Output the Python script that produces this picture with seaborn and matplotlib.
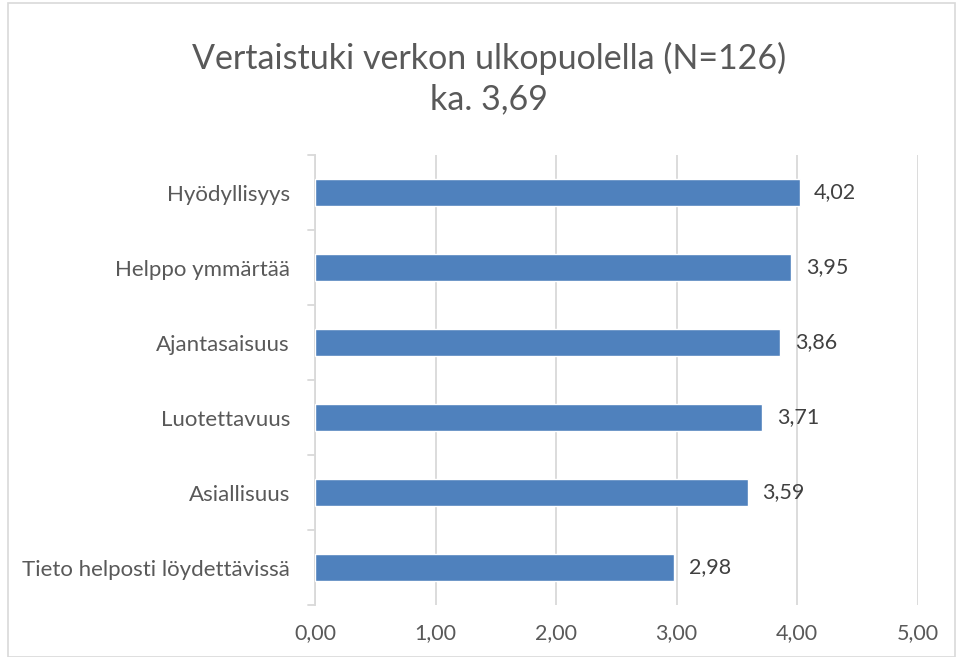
import matplotlib
matplotlib.use("Agg")
import matplotlib.pyplot as plt
import seaborn as sns
import pandas as pd
from matplotlib.patches import Rectangle

# data
categories = ["Hyödyllisyys", "Helppo ymmärtää", "Ajantasaisuus",
              "Luotettavuus", "Asiallisuus", "Tieto helposti löydettävissä"]
values = [4.02, 3.95, 3.86, 3.71, 3.59, 2.98]
xticks = [0, 1, 2, 3, 4, 5]

df = pd.DataFrame({"kategoria": categories, "ka": values})

sns.set_style("white")
plt.rcParams["font.family"] = ["Lato", "DejaVu Sans"]

fig = plt.figure(figsize=(9.59, 6.57), dpi=100)
ax = fig.add_axes([0.3285, 0.079, 0.6285, 0.685])

sns.barplot(data=df, x="ka", y="kategoria", orient="h", color="#4F81BD",
            width=0.35, saturation=1, ax=ax, zorder=3)

ax.set_xlim(0, 5)
ax.set_xticks(xticks)
ax.set_xticklabels([f"{t:.2f}".replace(".", ",") for t in xticks],
                   fontsize=15.5, color="#595959")
ax.tick_params(axis="x", length=0, pad=13)
ax.tick_params(axis="y", length=0, pad=18)
for lab in ax.get_yticklabels():
    lab.set_fontsize(16)
    lab.set_color("#595959")
ax.set_xlabel("")
ax.set_ylabel("")
ax.grid(axis="x", color="#D9D9D9", linewidth=1.3, zorder=0)
for s in ["top", "right", "bottom"]:
    ax.spines[s].set_visible(False)
ax.spines["left"].set_color("#D9D9D9")
ax.spines["left"].set_linewidth(1.3)

# category boundary ticks on the y axis (Excel style)
n = len(categories)
for b in range(n + 1):
    ax.plot([-0.06, 0], [b - 0.5, b - 0.5], color="#D9D9D9", lw=1.3,
            clip_on=False, transform=ax.transData)
ax.set_ylim(n - 0.5, -0.5)

for i, v in enumerate(values):
    ax.text(v + 0.12, i, f"{v:.2f}".replace(".", ","), va="center", ha="left",
            fontsize=15.5, color="#404040")

fig.text(0.51, 0.911, "Vertaistuki verkon ulkopuolella (N=126)", ha="center",
         va="center", fontsize=24.5, color="#595959")
fig.text(0.51, 0.849, "ka. 3,69", ha="center", va="center", fontsize=24.5,
         color="#595959")

fig.patches.append(Rectangle((0.008, 0.0), 0.988, 0.995, transform=fig.transFigure,
                             fill=False, edgecolor="#D9D9D9", lw=1.2))

fig.savefig("out.png", dpi=100)
